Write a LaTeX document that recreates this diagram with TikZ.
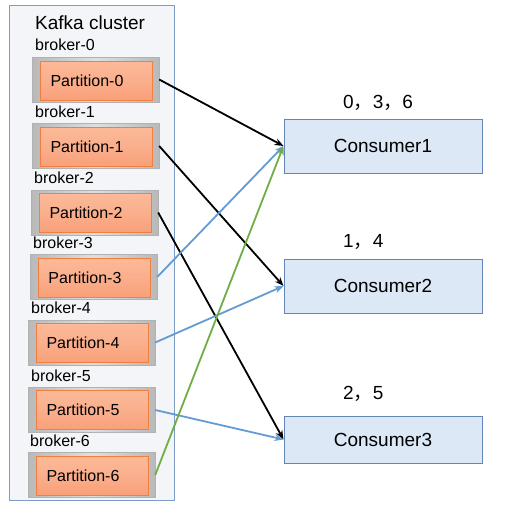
\documentclass[tikz,border=0pt]{standalone}
\usepackage{fontspec}
\setmainfont{Liberation Sans}
\newfontfamily\cjk{Noto Sans CJK SC}
\usetikzlibrary{arrows.meta}
\definecolor{kfframe}{RGB}{124,156,198}
\definecolor{kfback}{RGB}{243,245,248}
\definecolor{kforange}{RGB}{249,160,120}
\definecolor{kflight}{RGB}{252,186,152}
\definecolor{kfedge}{RGB}{240,128,64}
\definecolor{kfcons}{RGB}{220,232,246}
\definecolor{kfconsedge}{RGB}{98,134,182}
\definecolor{kfblue}{RGB}{100,155,210}
\definecolor{kfgreen}{RGB}{112,173,71}

\tikzset{
  brokerbox/.style={draw=gray!60, left color=gray!55, right color=gray!55, middle color=gray!25,
    minimum width=127pt, minimum height=45pt, inner sep=0pt},
  partbox/.style={draw=kfedge, top color=kflight, bottom color=kforange, middle color=kforange!85,
    minimum width=112pt, minimum height=39pt, inner ysep=0pt, inner xsep=10.5pt,
    text width=91pt, align=left, font=\fontsize{16}{19}\selectfont},
  brokerlabel/.style={anchor=west, inner sep=0pt, font=\fontsize{16}{19}\selectfont},
  consbox/.style={draw=kfconsedge, fill=kfcons, line width=1pt, minimum width=198pt,
    inner sep=0pt, font=\fontsize{19}{22}\selectfont},
  grouplabel/.style={anchor=west, inner sep=0pt, font=\fontsize{19}{22}\selectfont},
  flow/.style={line width=1.8pt, -{Stealth[length=9pt,width=7pt]}}
}

\begin{document}
\begin{tikzpicture}[x=1pt,y=-1pt]
\useasboundingbox (0,0) rectangle (505,507);
% cluster frame
\draw[kfframe, fill=kfback, line width=1pt] (9,5) rectangle (174,500);
\node[grouplabel] (title) at (35,23) {Kafka cluster};

% brokers and partitions
\node[brokerlabel] (l0) at (35,45) {broker-0};
\node[brokerbox] (b0) at (95.5,79.5) {};
\node[partbox] (p0) at (96,80.5) {Partition-0};
\node[brokerlabel] (l1) at (35,112) {broker-1};
\node[brokerbox] (b1) at (95.5,146) {};
\node[partbox] (p1) at (96,147) {Partition-1};
\node[brokerlabel] (l2) at (34,178) {broker-2};
\node[brokerbox] (b2) at (94.5,212.5) {};
\node[partbox] (p2) at (95,213) {Partition-2};
\node[brokerlabel] (l3) at (33,243) {broker-3};
\node[brokerbox] (b3) at (93.5,277) {};
\node[partbox] (p3) at (94,277.5) {Partition-3};
\node[brokerlabel] (l4) at (31,308) {broker-4};
\node[brokerbox] (b4) at (91.5,342.5) {};
\node[partbox] (p4) at (92,343) {Partition-4};
\node[brokerlabel] (l5) at (31,376) {broker-5};
\node[brokerbox] (b5) at (91.5,410) {};
\node[partbox] (p5) at (92,410) {Partition-5};
\node[brokerlabel] (l6) at (30,441) {broker-6};
\node[brokerbox] (b6) at (91.5,475) {};
\node[partbox] (p6) at (92,475.5) {Partition-6};

% consumers
\node[consbox, minimum height=54pt] (c1) at (383,146) {Consumer1};
\node[consbox, minimum height=54pt] (c2) at (383,286) {Consumer2};
\node[consbox, minimum height=47pt] (c3) at (383,439.5) {Consumer3};
\node[grouplabel] (g1) at (343,103) {0{\cjk ，}3{\cjk ，}6};
\node[grouplabel] (g2) at (343,242) {1{\cjk ，}4};
\node[grouplabel] (g3) at (343,394) {2{\cjk ，}5};

% assignments
\draw[flow] (b0.east) -- (c1.west);
\draw[flow] (b1.east) -- (c2.west);
\draw[flow] (b2.east) -- (c3.west);
\draw[flow, kfblue] (b3.east) -- (c1.west);
\draw[flow, kfblue] (b4.east) -- (c2.west);
\draw[flow, kfblue] (b5.east) -- (c3.west);
\draw[flow, kfgreen] (b6.east) -- (c1.west);
\end{tikzpicture}
\end{document}
